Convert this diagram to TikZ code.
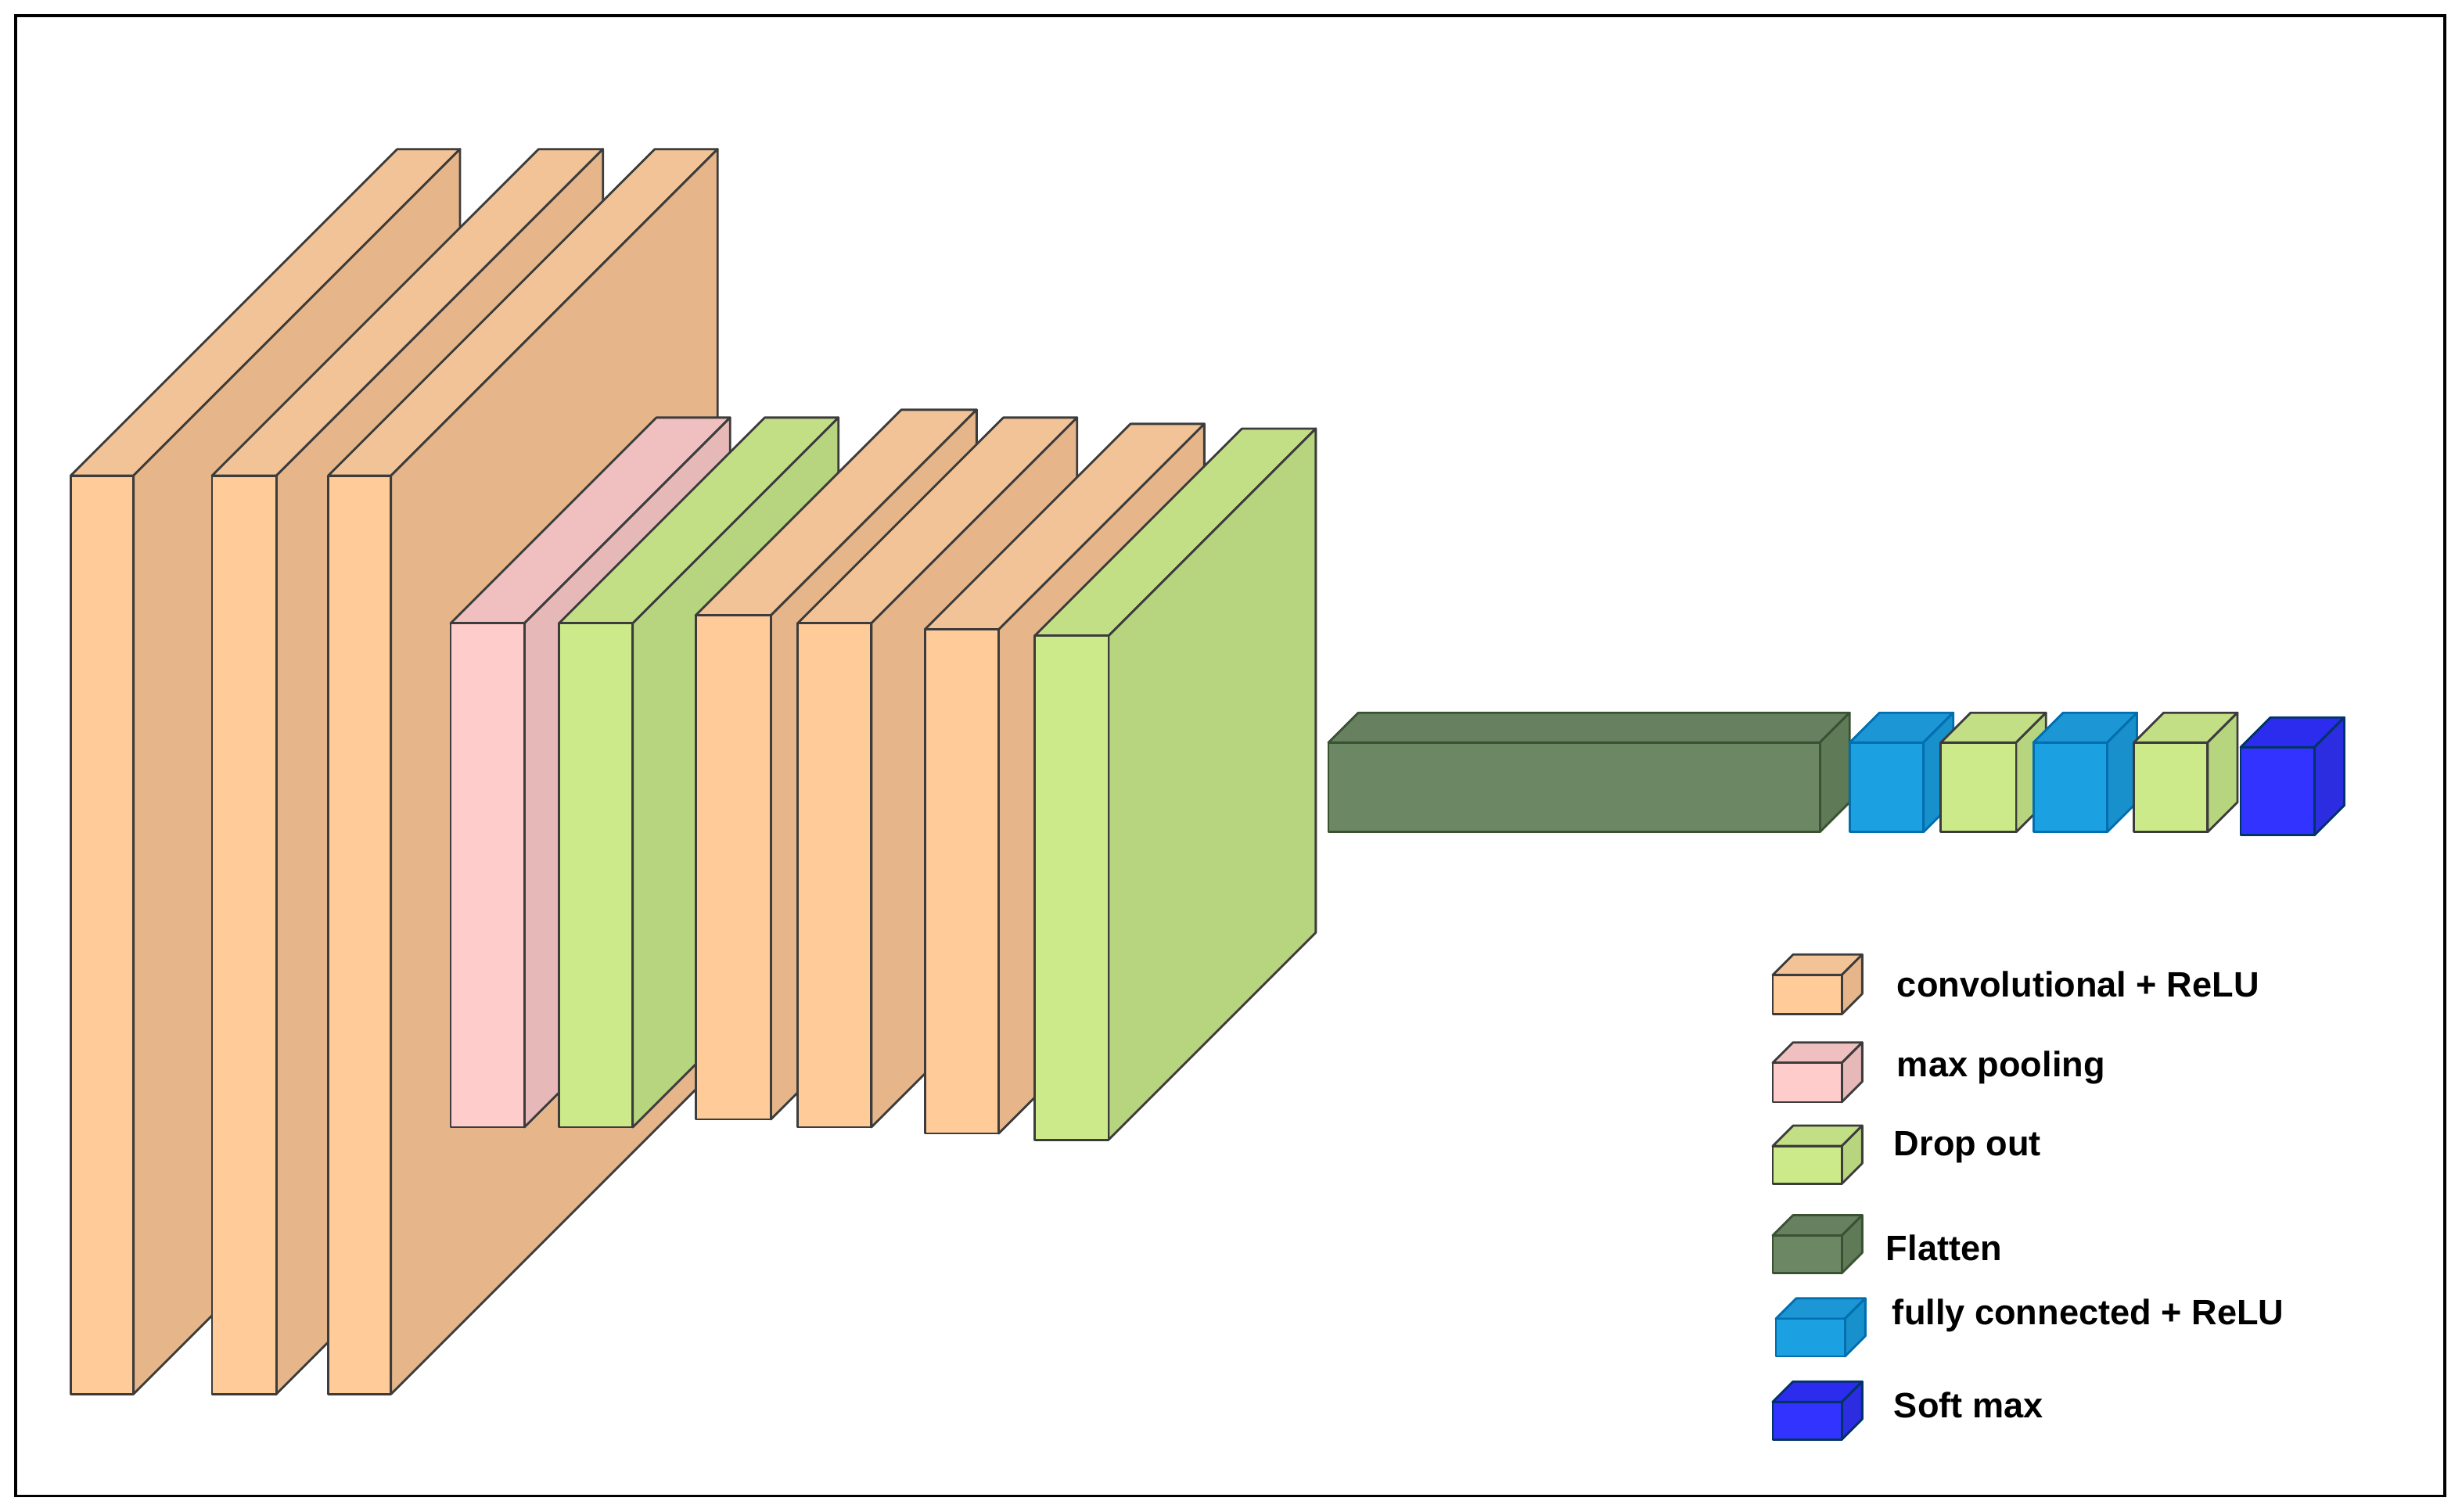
\documentclass[tikz,border=0pt]{standalone}
\usepackage{fontspec}
\setmainfont{Liberation Sans}
\definecolor{convF}{RGB}{255,203,153}
\definecolor{convS}{RGB}{230,182,138}
\definecolor{convT}{RGB}{242,195,150}
\definecolor{convD}{RGB}{60,60,60}
\definecolor{poolF}{RGB}{255,204,204}
\definecolor{poolS}{RGB}{230,184,184}
\definecolor{poolT}{RGB}{240,192,192}
\definecolor{poolD}{RGB}{60,60,60}
\definecolor{dropF}{RGB}{205,234,138}
\definecolor{dropS}{RGB}{183,213,127}
\definecolor{dropT}{RGB}{195,223,133}
\definecolor{dropD}{RGB}{60,60,60}
\definecolor{flatF}{RGB}{107,135,99}
\definecolor{flatS}{RGB}{94,122,87}
\definecolor{flatT}{RGB}{102,128,96}
\definecolor{flatD}{RGB}{58,82,51}
\definecolor{fcF}{RGB}{27,161,226}
\definecolor{fcS}{RGB}{24,144,204}
\definecolor{fcT}{RGB}{28,150,212}
\definecolor{fcD}{RGB}{0,110,175}
\definecolor{smF}{RGB}{51,51,255}
\definecolor{smS}{RGB}{44,44,224}
\definecolor{smT}{RGB}{44,44,238}
\definecolor{smD}{RGB}{0,51,102}
% \cube{x}{y}{w}{h}{depth}{colour prefix}: front face top-left at (x,y)
\newcommand\cube[6]{%
  \begin{scope}[draw=#6D, line width=4pt, line join=round]
    \filldraw[fill=#6T] (#1,#2) -- ++(#5,-#5) -- ++(#3,0) -- ++(-#5,#5) -- cycle;
    \filldraw[fill=#6S] (#1+#3,#2) -- ++(#5,-#5) -- ++(0,#4) -- ++(-#5,#5) -- cycle;
    \filldraw[fill=#6F] (#1,#2) rectangle ++(#3,#4);
  \end{scope}}
\tikzset{legtext/.style={anchor=west, font=\fontsize{64}{72}\selectfont\bfseries}}
\begin{document}
\begin{tikzpicture}[x=0.1cm,y=-0.1cm]
  \useasboundingbox (0,0) rectangle (1568,963);
  \draw[line width=5pt] (10,10) rectangle (1557,953);
  % convolutional part
  \cube{45}{303}{40}{585}{208}{conv}
  \cube{135}{303}{41}{585}{208}{conv}
  \cube{209}{303}{40}{585}{208}{conv}
  \cube{287}{397}{47}{321}{131}{pool}
  \cube{356}{397}{47}{321}{131}{drop}
  \cube{443}{392}{48}{321}{131}{conv}
  \cube{508}{397}{47}{321}{131}{conv}
  \cube{589}{401}{47}{321}{131}{conv}
  \cube{659}{405}{47}{321}{132}{drop}
  % dense part
  \cube{846}{473}{313}{57}{19}{flat}
  \cube{1178}{473}{47}{57}{19}{fc}
  \cube{1236}{473}{48}{57}{19}{drop}
  \cube{1295}{473}{47}{57}{19}{fc}
  \cube{1359}{473}{47}{57}{19}{drop}
  \cube{1427}{476}{47}{56}{19}{sm}
  % legend
  \cube{1129}{621}{44}{25}{13}{conv}
  \cube{1129}{677}{44}{25}{13}{pool}
  \cube{1129}{730}{44}{24}{13}{drop}
  \cube{1129}{787}{44}{24}{13}{flat}
  \cube{1131}{840}{44}{24}{13}{fc}
  \cube{1129}{893}{44}{24}{13}{sm}
  \node[legtext] (l1) at (1207,627) {convolutional + ReLU};
  \node[legtext] (l2) at (1207,680) {max pooling};
  \node[legtext] (l3) at (1205,731) {Drop out};
  \node[legtext] (l4) at (1200,795) {Flatten};
  \node[legtext] (l5) at (1204,838) {fully connected + ReLU};
  \node[legtext] (l6) at (1205,895) {Soft max};
\end{tikzpicture}
\end{document}
